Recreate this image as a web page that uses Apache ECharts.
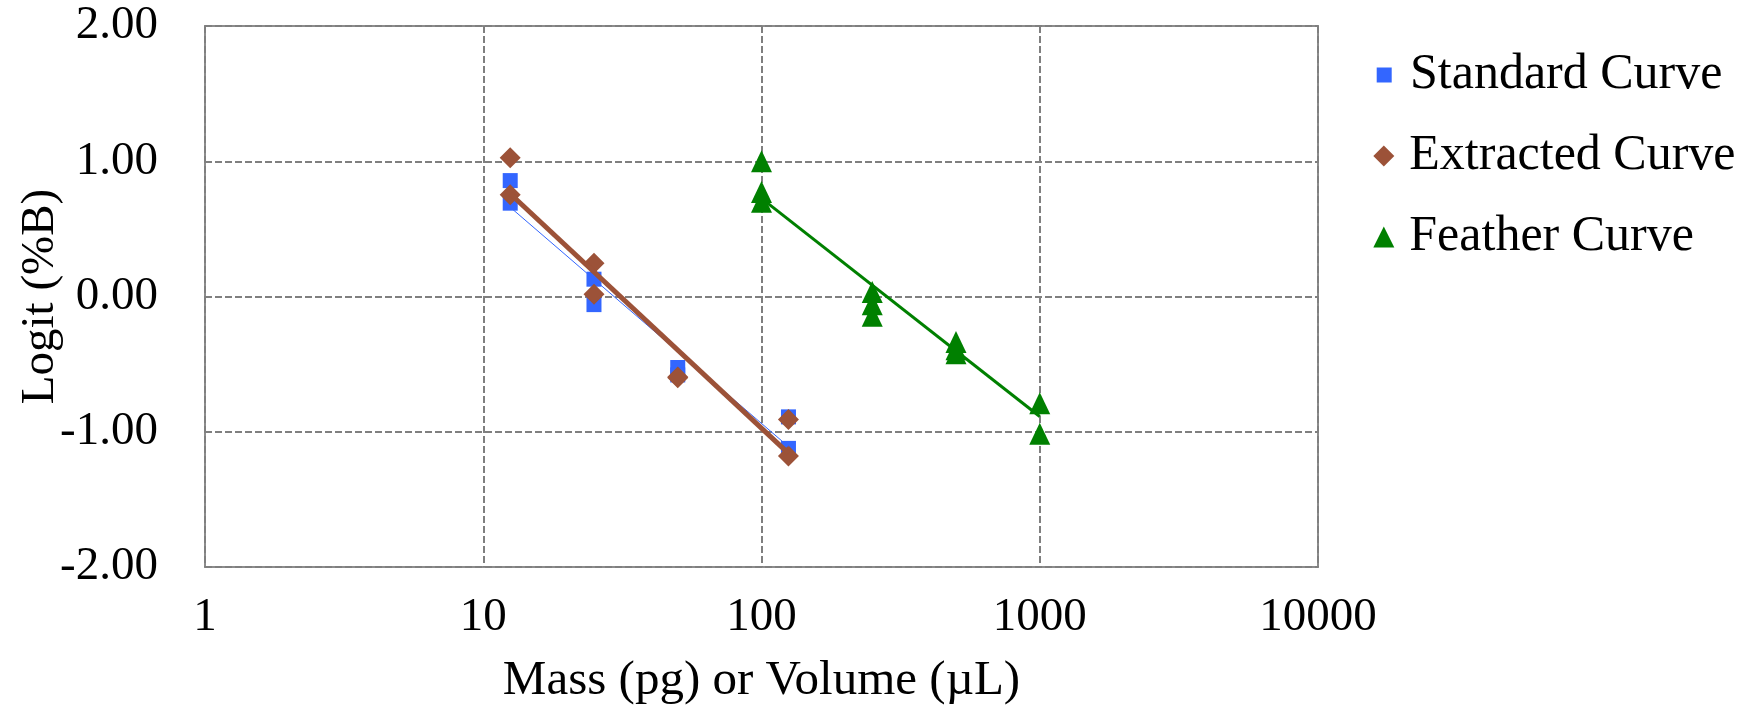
<!DOCTYPE html>
<html>
<head>
<meta charset="utf-8">
<script src="https://cdn.jsdelivr.net/npm/echarts@6/dist/echarts.min.js"></script>
<style>html,body{margin:0;padding:0;background:#fff}#c{width:1759px;height:708px}</style>
</head>
<body>
<div id="c"></div>
<script>
// ---- data ----
const xStandard = [12.5, 12.5, 25, 25, 50, 50, 125, 125];
const yStandard = [0.857, 0.69, 0.128, -0.06, -0.525, -0.58, -0.89, -1.123];
const xExtracted = [12.5, 12.5, 25, 25, 50, 50, 125, 125];
const yExtracted = [1.025, 0.752, 0.246, 0.017, -0.596, -0.60, -0.91, -1.18];
const xFeather = [100, 100, 100, 250, 250, 250, 500, 500, 500, 1000, 1000];
const yFeather = [1.0, 0.772, 0.70, 0.034, -0.057, -0.143, -0.337, -0.39, -0.42, -0.789, -1.015];
// trend line end points (x, y)
const trendStandardX = [12.5, 125];
const trendStandardY = [0.66, -1.11];
const trendExtractedX = [12.5, 125];
const trendExtractedY = [0.76, -1.16];
const trendFeatherX = [100, 1000];
const trendFeatherY = [0.725, -0.887];
const xTicks = [1, 10, 100, 1000, 10000];
const yTicks = [-2, -1, 0, 1, 2];
const seriesNames = ['Standard Curve', 'Extracted Curve', 'Feather Curve'];

const pair = (xs, ys) => xs.map((x, i) => [x, ys[i]]);
const FONT = 'Liberation Serif';
const blue = '#3366FF', brown = '#9C5238', green = '#008000';

const chart = echarts.init(document.getElementById('c'));
const legendBase = (name, icon, w, h, left, top, pad) => ({
  data: [{name: name, icon: icon}],
  orient: 'vertical', left: left, top: top,
  itemWidth: w, itemHeight: h,
  itemStyle: {opacity: 1},
  textStyle: {fontFamily: FONT, fontSize: 50, color: '#000', lineHeight: 60, padding: [0, 0, 0, pad]},
  selectedMode: false
});
chart.setOption({
  animation: false,
  backgroundColor: '#fff',
  grid: {left: 205, right: 441, top: 26, bottom: 141, show: true, borderColor: '#8c8c8c', borderWidth: 2,
    containLabel: false, outerBoundsMode: 'none'},
  legend: [
    legendBase(seriesNames[0], 'rect', 15, 15, 1371.7, 40, 13.3),
    legendBase(seriesNames[1], 'diamond', 21, 21, 1368.3, 121, 10),
    legendBase(seriesNames[2], 'triangle', 21, 21, 1368.3, 202, 10)
  ],
  xAxis: {
    type: 'log', logBase: 10, min: xTicks[0], max: xTicks[xTicks.length - 1],
    name: 'Mass (pg) or Volume (µL)', nameLocation: 'middle', nameGap: 90,
    nameTextStyle: {fontFamily: FONT, fontSize: 49, color: '#000'},
    axisLine: {show: false}, axisTick: {show: false},
    axisLabel: {fontFamily: FONT, fontSize: 47, color: '#000', margin: 27,
      formatter: v => String(Math.round(v))},
    splitLine: {show: true, lineStyle: {color: '#7f7f7f', width: 2, type: [7, 3]}}
  },
  yAxis: {
    type: 'value', min: yTicks[0], max: yTicks[yTicks.length - 1], interval: 1,
    name: 'Logit (%B)', nameLocation: 'middle', nameGap: 141, nameMoveOverlap: false,
    nameTextStyle: {fontFamily: FONT, fontSize: 47, color: '#000'},
    axisLine: {show: false}, axisTick: {show: false},
    axisLabel: {fontFamily: FONT, fontSize: 47, color: '#000', margin: 47,
      formatter: v => v.toFixed(2)},
    splitLine: {show: true, lineStyle: {color: '#7f7f7f', width: 2, type: [7, 3]}}
  },
  series: [
    {name: 'Standard trend', type: 'line', data: pair(trendStandardX, trendStandardY), showSymbol: false, symbol: 'none',
      lineStyle: {color: blue, width: 1}, silent: true},
    {name: seriesNames[0], type: 'scatter', data: pair(xStandard, yStandard), symbol: 'rect', symbolSize: 15,
      itemStyle: {color: blue, opacity: 1}},
    {name: 'Extracted trend', type: 'line', data: pair(trendExtractedX, trendExtractedY), showSymbol: false, symbol: 'none',
      lineStyle: {color: brown, width: 5}, silent: true},
    {name: seriesNames[1], type: 'scatter', data: pair(xExtracted, yExtracted), symbol: 'diamond', symbolSize: 21,
      itemStyle: {color: brown, opacity: 1}},
    {name: 'Feather trend', type: 'line', data: pair(trendFeatherX, trendFeatherY), showSymbol: false, symbol: 'none',
      lineStyle: {color: green, width: 3}, silent: true},
    {name: seriesNames[2], type: 'scatter', data: pair(xFeather, yFeather), symbol: 'triangle', symbolSize: [21, 22],
      itemStyle: {color: green, opacity: 1}}
  ]
});
</script>
</body>
</html>
